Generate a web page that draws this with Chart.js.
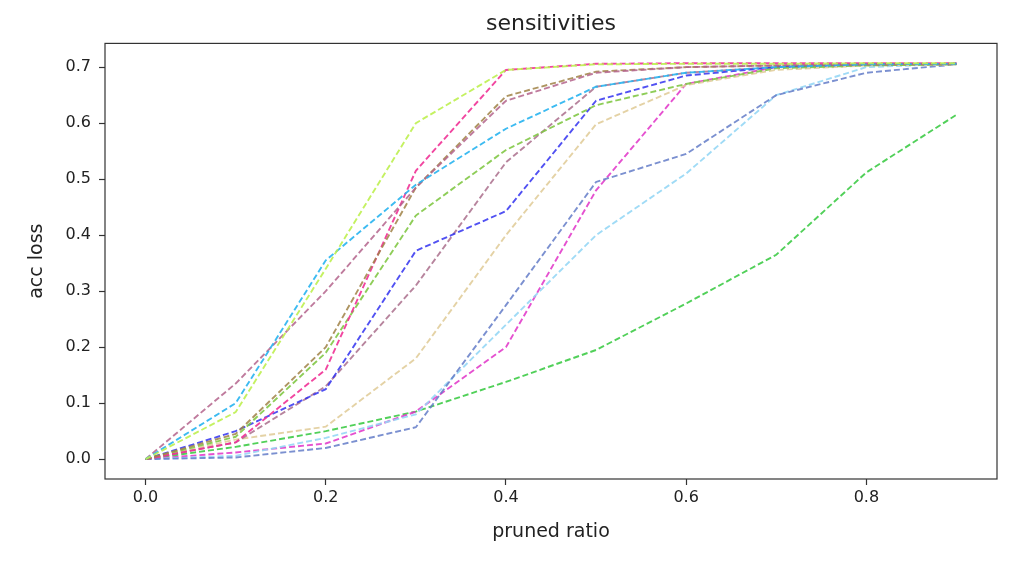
<!DOCTYPE html>
<html>
<head>
<meta charset="utf-8">
<script src="https://cdn.jsdelivr.net/npm/chart.js@4.4.1/dist/chart.umd.min.js"></script>
<style>
  html, body { margin: 0; padding: 0; background: #fff; }
  #wrap { width: 1032px; height: 562px; }
</style>
</head>
<body>
<div id="wrap"><canvas id="sensChart" width="1032" height="562"></canvas></div>
<script>
// pruned ratio on the x axis
const ratios = [0, 0.1, 0.2, 0.3, 0.4, 0.5, 0.6, 0.7, 0.8, 0.9];

// acc loss per curve
const lime      = [0, 0.084, 0.34, 0.60, 0.695, 0.705, 0.706, 0.706, 0.707, 0.707];
const cyan      = [0, 0.10, 0.355, 0.49, 0.59, 0.665, 0.69, 0.70, 0.705, 0.706];
const mauve     = [0, 0.135, 0.30, 0.485, 0.64, 0.69, 0.70, 0.703, 0.705, 0.706];
const olive     = [0, 0.045, 0.20, 0.485, 0.648, 0.692, 0.70, 0.703, 0.705, 0.706];
const pink      = [0, 0.03, 0.16, 0.515, 0.695, 0.706, 0.707, 0.707, 0.707, 0.707];
const leaf      = [0, 0.04, 0.19, 0.435, 0.552, 0.632, 0.67, 0.698, 0.703, 0.705];
const blue      = [0, 0.05, 0.125, 0.372, 0.443, 0.64, 0.685, 0.70, 0.705, 0.706];
const mauveLow  = [0, 0.03, 0.13, 0.31, 0.53, 0.665, 0.69, 0.70, 0.704, 0.705];
const tan       = [0, 0.035, 0.058, 0.18, 0.40, 0.598, 0.668, 0.695, 0.703, 0.705];
const slate     = [0, 0.003, 0.02, 0.057, 0.275, 0.495, 0.545, 0.65, 0.69, 0.705];
const skyBlue   = [0, 0.006, 0.038, 0.08, 0.24, 0.40, 0.51, 0.65, 0.70, 0.706];
const magenta   = [0, 0.012, 0.028, 0.085, 0.20, 0.48, 0.67, 0.70, 0.705, 0.706];
const green     = [0, 0.022, 0.05, 0.085, 0.138, 0.195, 0.278, 0.365, 0.512, 0.615];

const xTicks = [0, 0.2, 0.4, 0.6, 0.8];
const yTicks = [0, 0.1, 0.2, 0.3, 0.4, 0.5, 0.6, 0.7];

const curves = [
  [lime, 'rgba(190,240,80,0.9)'],
  [cyan, 'rgba(40,180,240,0.9)'],
  [mauve, 'rgba(180,100,140,0.85)'],
  [olive, 'rgba(160,130,70,0.85)'],
  [pink, 'rgba(240,50,150,0.9)'],
  [leaf, 'rgba(130,200,70,0.9)'],
  [blue, 'rgba(50,50,240,0.85)'],
  [mauveLow, 'rgba(170,110,140,0.85)'],
  [tan, 'rgba(225,205,155,0.9)'],
  [slate, 'rgba(100,125,200,0.85)'],
  [skyBlue, 'rgba(150,215,245,0.9)'],
  [magenta, 'rgba(225,50,200,0.85)'],
  [green, 'rgba(50,200,60,0.85)']
];

const datasets = curves.map(([vals, col]) => ({
  data: vals.map((v, i) => ({x: ratios[i], y: v})),
  borderColor: col,
  borderWidth: 1.9,
  borderDash: [6, 3],
  pointRadius: 0,
  tension: 0,
  fill: false
}));

// axes frame like matplotlib
const frame = {
  id: 'frame',
  afterDraw(chart) {
    const {ctx, chartArea: {left, top, right, bottom}} = chart;
    ctx.save();
    ctx.strokeStyle = '#333';
    ctx.lineWidth = 1.2;
    ctx.strokeRect(left, top, right - left, bottom - top);
    ctx.restore();
  }
};

const font = 'DejaVu Sans';

const config = {
  type: 'line',
  data: { datasets },
  options: {
    responsive: false,
    animation: false,
    devicePixelRatio: 1,
    layout: { padding: { left: 0, top: 0, right: 35, bottom: 0 } },
    scales: {
      x: {
        type: 'linear',
        min: -0.045,
        max: 0.945,
        afterFit: s => { s.height = 83; },
        afterBuildTicks: s => { s.ticks = xTicks.map(v => ({value: v})); },
        grid: { drawOnChartArea: false, drawTicks: true, tickLength: 6, tickColor: '#333', tickWidth: 1.2 },
        border: { display: false },
        ticks: {
          padding: 3,
          color: '#222',
          font: { family: font, size: 16 },
          callback: v => v.toFixed(1),
          maxRotation: 0
        },
        title: {
          display: true,
          text: 'pruned ratio',
          color: '#222',
          font: { family: font, size: 19 },
          padding: { top: 0, bottom: 19 }
        }
      },
      y: {
        type: 'linear',
        min: -0.0354,
        max: 0.7424,
        afterFit: s => { s.width = 105; },
        afterBuildTicks: s => { s.ticks = yTicks.map(v => ({value: v})); },
        grid: { drawOnChartArea: false, drawTicks: true, tickLength: 6, tickColor: '#333', tickWidth: 1.2 },
        border: { display: false },
        ticks: {
          padding: 8,
          color: '#222',
          font: { family: font, size: 16 },
          callback: v => v.toFixed(1)
        },
        title: {
          display: true,
          text: 'acc loss',
          color: '#222',
          font: { family: font, size: 19 },
          padding: { top: 26, bottom: 0 }
        }
      }
    },
    plugins: {
      legend: { display: false },
      tooltip: { enabled: false },
      title: {
        display: true,
        text: 'sensitivities',
        fullSize: false,
        color: '#222',
        font: { family: font, size: 22, weight: 'normal' },
        padding: { top: 11, bottom: 6 }
      }
    }
  },
  plugins: [frame]
};

// render init block
const sensChart = new Chart(document.getElementById('sensChart'), config);
</script>
</body>
</html>
